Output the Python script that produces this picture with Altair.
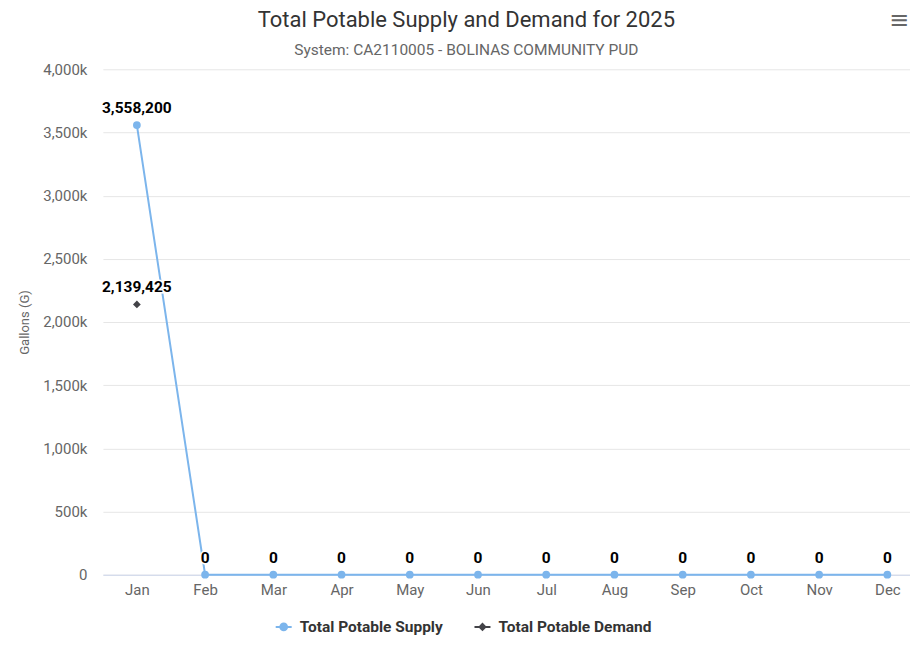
import altair as alt
import pandas as pd

months = ["Jan", "Feb", "Mar", "Apr", "May", "Jun", "Jul", "Aug", "Sep", "Oct", "Nov", "Dec"]
supply = [3558200, 0, 0, 0, 0, 0, 0, 0, 0, 0, 0, 0]
demand = [2139425, None, None, None, None, None, None, None, None, None, None, None]
series_names = ["Total Potable Supply", "Total Potable Demand"]
series_colors = ["#7cb5ec", "#434348"]
y_ticks = [0, 500000, 1000000, 1500000, 2000000, 2500000, 3000000, 3500000, 4000000]

rows = []
for m, s, d in zip(months, supply, demand):
    rows.append({"month": m, "series": series_names[0], "value": s})
    if d is not None:
        rows.append({"month": m, "series": series_names[1], "value": d})
df = pd.DataFrame(rows)

FONT = "Roboto"

x = alt.X(
    "month:O",
    sort=months,
    scale=alt.Scale(type="point", padding=0.415, align=0.6),
    axis=alt.Axis(
        title=None, labelAngle=0, ticks=False, grid=False,
        domainColor="#ccd6eb", domainWidth=1,
        labelColor="#666666", labelFontSize=15, labelFont=FONT, labelPadding=8,
    ),
)
y = alt.Y(
    "value:Q",
    scale=alt.Scale(domain=[0, 4000000], nice=False),
    axis=alt.Axis(
        title="Gallons (G)", values=y_ticks,
        labelExpr="datum.value == 0 ? '0' : format(datum.value / 1000, ',') + 'k'",
        grid=True, gridColor="#e6e6e6", gridWidth=1,
        domain=False, ticks=False,
        labelColor="#666666", labelFontSize=15, labelFont=FONT, labelPadding=16,
        titleColor="#666666", titleFontSize=13, titleFont=FONT, titleFontWeight="normal",
        titlePadding=11,
    ),
)

base = alt.Chart(df)
supply_df = base.transform_filter(alt.datum.series == series_names[0])
demand_df = base.transform_filter(alt.datum.series == series_names[1])

lines = supply_df.mark_line(strokeWidth=2, color=series_colors[0]).encode(x=x, y=y)

pts_supply = supply_df.mark_point(
    filled=True, shape="circle", size=60, opacity=1, color=series_colors[0]
).encode(x=x, y=y)

pts_demand = demand_df.mark_point(
    filled=True, shape="diamond", size=60, opacity=1, color=series_colors[1]
).encode(x=x, y=y)

def circles(rs):
    return "".join(f"M{-r},0A{r},{r} 0 1,0 {r},0A{r},{r} 0 1,0 {-r},0" for r in rs)

def diamonds(rs):
    return "".join(f"M0,{-r}L{r},0L0,{r}L{-r},0Z" for r in rs)

legend_paths = [
    "M-1,0L1,0" + circles([0.42, 0.28, 0.14]),
    "M-1,0L1,0" + diamonds([0.36, 0.22, 0.1]),
]

# Legend-only layer: no rows survive the filter, the legend comes from the scales.
legend_layer = base.transform_filter("false").mark_point(filled=False, strokeWidth=2).encode(
    x=x, y=y,
    color=alt.Color(
        "series:N",
        scale=alt.Scale(domain=series_names, range=series_colors),
        legend=alt.Legend(
            title=None, orient="none", direction="horizontal",
            legendX=172, legendY=549,
            labelFont=FONT, labelFontSize=15.5, labelFontWeight="bold", labelColor="#333333",
            symbolSize=256, symbolStrokeWidth=2, symbolOpacity=1,
            columnPadding=27, labelOffset=7,
        ),
    ),
    shape=alt.Shape(
        "series:N",
        scale=alt.Scale(domain=series_names, range=legend_paths),
        legend=alt.Legend(title=None),
    ),
)

labels_outline = base.mark_text(
    font=FONT, fontSize=15.5, fontWeight="bold", dy=-17, stroke="white", strokeWidth=3, fill="white"
).encode(x=x, y=y, text=alt.Text("value:Q", format=","))

labels = base.mark_text(
    font=FONT, fontSize=15.5, fontWeight="bold", dy=-17, color="#000000"
).encode(x=x, y=y, text=alt.Text("value:Q", format=","))

menu = alt.Chart(pd.DataFrame({"t": ["\u2261"]})).mark_text(
    font="DejaVu Sans", fontSize=24, color="#666666", align="center", baseline="middle"
).encode(x=alt.value(797), y=alt.value(-48), text="t:N")

chart = alt.layer(
    lines, legend_layer, pts_supply, pts_demand, labels_outline, labels, menu
).properties(
    width=808,
    height=506,
    title=alt.TitleParams(
        text="Total Potable Supply and Demand for 2025",
        subtitle="System: CA2110005 - BOLINAS COMMUNITY PUD",
        font=FONT, fontSize=22, fontWeight="normal", color="#333333",
        subtitleFont=FONT, subtitleFontSize=15.5, subtitleColor="#666666",
        subtitlePadding=11, offset=-50, anchor="middle", frame="bounds", dx=2,
    ),
).configure(
    padding={"left": 10, "right": 0, "top": 0, "bottom": 0}
).configure_view(stroke=None)

chart.save("out.html", embed_options={"renderer": "svg", "actions": False})
